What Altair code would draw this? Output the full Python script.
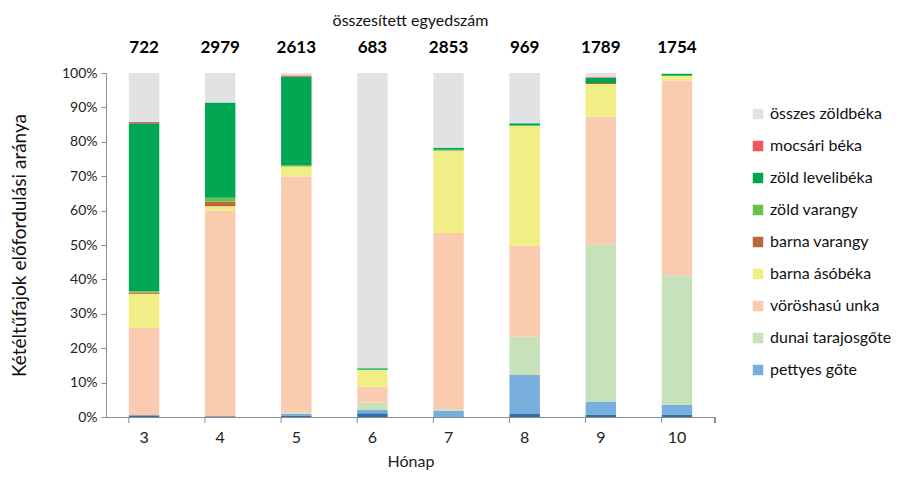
import altair as alt
import pandas as pd

months = ["3", "4", "5", "6", "7", "8", "9", "10"]
totals = [722, 2979, 2613, 683, 2853, 969, 1789, 1754]

series = ["egyéb gőte", "pettyes gőte", "dunai tarajosgőte", "vöröshasú unka",
          "barna ásóbéka", "barna varangy", "zöld varangy", "zöld levelibéka",
          "mocsári béka", "összes zöldbéka"]
colors = ["#2E6FAD", "#78AEDC", "#C7E1BB", "#FACBAE", "#F1EE85", "#B8693A",
          "#6CC04A", "#00A651", "#F0545C", "#E1E2E4"]

egyeb = [0.5, 0.2, 0.3, 1.1, 0.0, 0.9, 0.6, 0.6]
pettyes = [0.0, 0.0, 0.6, 0.9, 1.8, 11.3, 3.9, 3.0]
dunai = [0.0, 0.0, 0.4, 2.2, 0.5, 11.1, 45.7, 37.6]
voroshasu = [25.5, 59.8, 68.6, 4.6, 51.2, 26.5, 37.1, 56.6]
asobeka = [9.8, 1.3, 2.9, 4.9, 23.9, 34.9, 9.5, 1.4]
barna_varangy = [0.4, 1.3, 0.0, 0.0, 0.0, 0.0, 0.3, 0.0]
zold_varangy = [0.4, 1.1, 0.4, 0.0, 0.3, 0.0, 0.0, 0.0]
levelibeka = [48.8, 27.7, 25.7, 0.5, 0.6, 0.7, 1.5, 0.6]
mocsari = [0.4, 0.0, 0.4, 0.0, 0.0, 0.0, 0.2, 0.0]
osszes = [14.2, 8.6, 0.7, 85.8, 21.7, 14.6, 1.2, 0.2]

values = [egyeb, pettyes, dunai, voroshasu, asobeka, barna_varangy,
          zold_varangy, levelibeka, mocsari, osszes]

rows = []
for i, (name, vals) in enumerate(zip(series, values)):
    for m, v in zip(months, vals):
        rows.append({"honap": m, "faj": name, "ertek": v, "idx": i})
df = pd.DataFrame(rows)
tot_df = pd.DataFrame({"honap": months, "n": [str(t) for t in totals]})

FONT = "Lato"
legend_entries = list(reversed(series[1:]))

xscale = alt.Scale(domain=months, paddingInner=0.6, paddingOuter=0.3)

bars = alt.Chart(df).mark_bar().encode(
    x=alt.X("honap:O", sort=months, scale=xscale,
            axis=alt.Axis(title="Hónap", labelAngle=0, ticks=False,
                          labelFontSize=16, labelColor="#222", labelPadding=12,
                          titleFontSize=16, titleFontWeight="normal",
                          titleColor="#222", titlePadding=8,
                          domainColor="#8c8c8c", labelFont=FONT, titleFont=FONT)),
    y=alt.Y("ertek:Q", stack="normalize",
            scale=alt.Scale(domain=[0, 1]),
            axis=alt.Axis(title="Kétéltűfajok előfordulási aránya", format=".0%",
                          values=[i / 10 for i in range(11)], grid=False,
                          labelFontSize=14, labelColor="#222", labelPadding=4,
                          tickSize=5, tickColor="#8c8c8c", domainColor="#8c8c8c",
                          titleFontSize=19, titleFontWeight="normal",
                          titleColor="#111", titlePadding=32,
                          labelFont=FONT, titleFont=FONT)),
    color=alt.Color("faj:N", scale=alt.Scale(domain=series, range=colors),
                    legend=alt.Legend(values=legend_entries, title=None,
                                      orient="none", legendX=644, legendY=33,
                                      symbolType="square", symbolSize=110,
                                      symbolStrokeWidth=0,
                                      labelFontSize=16, labelColor="#111",
                                      labelFont=FONT, rowPadding=16,
                                      labelLimit=300)),
    order=alt.Order("idx:Q", sort="ascending"),
)

boundary_ticks = alt.Chart(tot_df).mark_rule(color="#8c8c8c").encode(
    x=alt.X("honap:O", sort=months, scale=xscale, bandPosition=0),
    y=alt.value(344), y2=alt.value(350),
)

end_tick = alt.Chart(tot_df).mark_rule(color="#8c8c8c").encode(
    x=alt.value(609), y=alt.value(344), y2=alt.value(350)
)

total_text = alt.Chart(tot_df).mark_text(
    fontSize=17, fontWeight="bold", font=FONT, color="#000", baseline="middle"
).encode(
    x=alt.X("honap:O", sort=months, scale=xscale),
    y=alt.value(-25),
    text="n:N",
)

chart = alt.layer(bars, boundary_ticks, end_tick, total_text).properties(
    width=609, height=344,
    title=alt.TitleParams("összesített egyedszám", fontSize=16, font=FONT,
                          fontWeight="normal", color="#111", anchor="middle",
                          offset=10),
    autosize=alt.AutoSizeParams(type="none"),
    padding={"left": 98, "top": 65, "right": 191, "bottom": 54},
).configure_view(stroke=None)

chart.save("out.html", embed_options={"renderer": "svg", "actions": False})
